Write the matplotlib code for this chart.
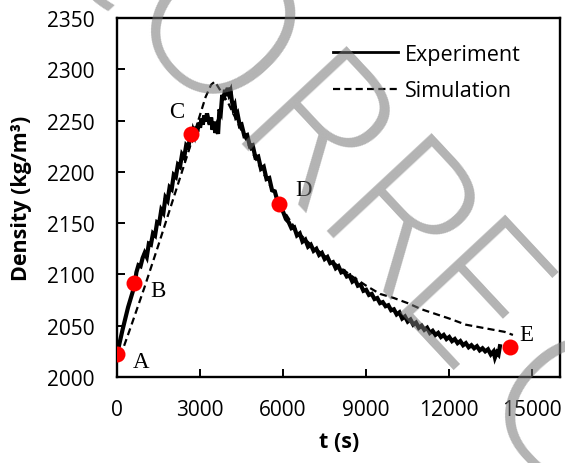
import matplotlib
matplotlib.use('Agg')
import matplotlib.pyplot as plt

# ---------------- data ----------------
exp_t = [0, 100, 200, 300, 400, 500, 600, 650,
         700, 775, 850, 925, 1000, 1075, 1150, 1225, 1300, 1375, 1450, 1525,
         1600, 1675, 1750, 1825, 1900, 1975, 2050, 2125, 2200, 2275, 2350,
         2425, 2500, 2575, 2650,
         2700, 2750, 2800, 2850, 2900, 2950, 3000, 3050, 3100, 3150, 3200,
         3250, 3300, 3350, 3400, 3450, 3500, 3550, 3600, 3650, 3700, 3750,
         3800, 3850, 3900, 3950, 4000, 4050, 4100, 4150,
         4200, 4250, 4300, 4350, 4435, 4500, 4600, 4700, 4800, 4900, 5000,
         5100, 5200, 5300, 5400, 5500, 5600, 5700, 5800, 5900, 6000, 6100,
         6200, 6300, 6400, 6500, 6600, 6700, 6800, 6900, 7000, 7100, 7200,
         7300, 7400, 7500, 7600, 7700, 7800, 7900, 8000, 8100, 8200, 8300,
         8400, 8500, 8600, 8700, 8800, 8900, 9000, 9100, 9200, 9300, 9400,
         9500, 9600, 9700, 9800, 9900, 10000, 10100, 10200, 10300, 10400,
         10500, 10600, 10700, 10800, 10900, 11000, 11100, 11200, 11300,
         11400, 11500, 11600, 11700, 11800, 11900, 12000, 12100, 12200,
         12300, 12400, 12500, 12600, 12700, 12800, 12900, 13000, 13100,
         13200, 13300, 13400, 13500, 13600, 13650, 13720, 13780, 13830]
exp_rho = [2022, 2034, 2046, 2057, 2068, 2077, 2086, 2092,
           2102, 2109, 2108, 2116, 2121, 2117, 2130, 2129, 2140, 2138, 2151,
           2150, 2163, 2160, 2175, 2172, 2185, 2183, 2197, 2195, 2207, 2205,
           2217, 2214, 2226, 2224, 2235,
           2233, 2240, 2236, 2244, 2239, 2248, 2243, 2252, 2246, 2255, 2249,
           2257, 2251, 2246, 2253, 2241, 2249, 2238, 2243, 2237, 2261, 2258,
           2275, 2270, 2280, 2274, 2282, 2276, 2279, 2269,
           2262, 2265, 2255, 2257, 2245, 2246, 2235, 2236, 2225, 2226, 2214,
           2215, 2203, 2205, 2193, 2194, 2182, 2181, 2171, 2167, 2161, 2154,
           2151, 2145, 2146, 2138, 2140, 2132, 2134, 2127, 2129, 2123, 2125,
           2119, 2121, 2115, 2117, 2111, 2112, 2106, 2108, 2102, 2103, 2098,
           2099, 2093, 2095, 2089, 2090, 2084, 2085, 2080, 2081, 2076, 2077,
           2072, 2073, 2069, 2070, 2065, 2066, 2061, 2063, 2057, 2059,
           2054, 2056, 2051, 2053, 2048, 2050, 2046, 2048, 2043,
           2045, 2041, 2043, 2039, 2041, 2037, 2039, 2035, 2037,
           2033, 2035, 2031, 2033, 2029, 2031, 2028, 2030, 2026,
           2028, 2025, 2027, 2022, 2025, 2019, 2024, 2022, 2030]

sim_t = [120, 500, 1000, 1500, 2000, 2500, 2900, 3200, 3400, 3534, 3650,
         4000, 4500, 5000, 5500, 6000, 6500, 7000, 7500, 8000, 8500, 9000,
         9500, 10000, 10500, 11000, 12000, 12600, 13000, 14000, 14300]
sim_rho = [2020, 2049, 2088, 2129, 2171, 2213, 2247, 2273, 2285, 2288, 2283,
           2268, 2240, 2213, 2188, 2163, 2142, 2129, 2118, 2108, 2098, 2089,
           2081, 2077, 2072, 2066, 2057, 2051, 2049, 2044, 2041]

pt_labels = ['A', 'B', 'C', 'D', 'E']
pt_t = [0, 620, 2668, 5841, 14196]
pt_rho = [2022, 2092, 2237, 2169, 2029]

x_ticks = [0, 3000, 6000, 9000, 12000, 15000]
y_ticks = [2000, 2050, 2100, 2150, 2200, 2250, 2300, 2350]

# ---------------- figure ----------------
W, H = 565, 464
fig = plt.figure(figsize=(W / 100, H / 100), dpi=100)
ax = fig.add_axes([117 / W, (H - 378) / H, 443 / W, 359 / H])

sans = ['Open Sans', 'DejaVu Sans']
tick_font = dict(family=sans, size=15)

ax.plot(exp_t, exp_rho, color='black', lw=3.0, solid_joinstyle='miter',
        label='Experiment', zorder=3)
ax.plot(sim_t, sim_rho, color='black', lw=1.6, dashes=(3.2, 1.9),
        label='Simulation', zorder=2)
ax.plot(pt_t, pt_rho, 'o', color='#ff0000', ms=11.5, mec='none', zorder=4)

offsets = [(17, -5), (17, -6), (-10, 16), (18, 10), (12, 9)]
for lab, t, r, off in zip(pt_labels, pt_t, pt_rho, offsets):
    ax.annotate(lab, (t, r), xytext=off, textcoords='offset points',
                ha='center', va='center', fontsize=16.5,
                family=['Liberation Serif', 'DejaVu Serif'], zorder=5)

ax.set_xlim(0, 16000)
ax.set_ylim(2000, 2350)
ax.set_xticks(x_ticks)
ax.set_yticks(y_ticks)
ax.set_xticklabels([str(v) for v in x_ticks], fontdict=tick_font)
ax.set_yticklabels([str(v) for v in y_ticks], fontdict=tick_font)
ax.tick_params(axis='both', direction='in', length=6, width=1.4)
ax.tick_params(axis='x', pad=16)
ax.tick_params(axis='y', pad=16)
for s in ax.spines.values():
    s.set_linewidth(1.7)

ax.set_xlabel('t (s)', family=sans, fontweight='bold', fontsize=15.5)
ax.set_ylabel('Density (kg/m³)', family=sans, fontweight='bold', fontsize=15.5)
ax.xaxis.set_label_coords((339 - 117) / 443, (378 - 443) / 359)
ax.xaxis.label.set_va('center')
ax.yaxis.set_label_coords((22 - 117) / 443, 0.5)
ax.yaxis.label.set_va('center')

leg = ax.legend(loc='upper left', bbox_to_anchor=((333 - 117) / 443, (378 - 45) / 359),
                frameon=False, borderpad=0, borderaxespad=0,
                handlelength=3.0, handletextpad=0.35, labelspacing=0.7,
                prop=dict(family=sans, size=15.5))
leg.get_lines()[0].set_linewidth(2.0)

# ---------------- watermark ----------------
wm = [('C', 122, -68), ('O', 221, 28), ('R', 317, 135), ('R', 402, 222),
      ('E', 472, 300), ('C', 565, 402)]
for ch, x, y in wm:
    fig.text(x / W, 1 - y / H, ch, fontsize=145,
             family=['Open Sans', 'DejaVu Sans'], fontweight='light',
             color='#757575', alpha=0.55, rotation=-47,
             rotation_mode='anchor', ha='center', va='center_baseline',
             zorder=10)

fig.savefig('out.png', dpi=100)
